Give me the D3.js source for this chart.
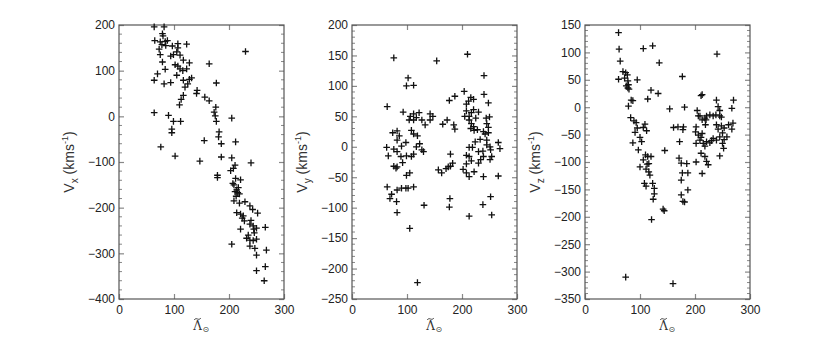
<!DOCTYPE html>
<html>
<head>
<meta charset="utf-8">
<script src="https://cdn.jsdelivr.net/npm/d3@7"></script>
<style>
  body { margin: 0; background: #fff; }
  svg { display: block; }
  .tick text { font-family: "Liberation Sans", Arial, Helvetica, sans-serif; font-size: 12px; fill: #222; }
</style>
</head>
<body>
<div id="chart"></div>
<script>
// define SVG dimensions
var svgWidth = 830;
var svgHeight = 337;

// x axis (solar longitude) is the same for all three panels
var lamDomain = [0, 300];
var lamTicks = [0, 100, 200, 300];

// Vx panel: [lambda, Vx]
var vxPoints = [
  [64,196],[82,196],[79,181],[80,176],[65,166],[75,163],[84,164],[88,166],[78,157],[85,155],
  [97,154],[107,159],[107,150],[123,158],[73,147],[75,135],[94,132],[99,135],[111,134],[105,141],
  [117,123],[128,117],[79,119],[102,113],[107,110],[111,104],[116,100],[84,103],[70,93],[105,90],
  [123,104],[128,81],[132,84],[117,79],[64,79],[82,71],[94,74],[125,71],[120,64],[117,46],
  [113,37],[110,25],[142,57],[141,50],[156,42],[164,34],[164,115],[177,73],[230,142],[176,20],
  [173,9],[175,1],[177,-11],[205,-4],[182,-34],[181,-45],[186,-60],[212,-56],[155,-53],[64,8],
  [90,2],[99,-11],[112,-11],[96,-28],[96,-36],[76,-67],[102,-87],[147,-98],[186,-89],[205,-91],
  [240,-102],[211,-107],[208,-114],[203,-119],[179,-129],[179,-134],[212,-136],[221,-139],[207,-147],[209,-150],
  [214,-161],[216,-167],[219,-170],[209,-185],[219,-190],[229,-187],[238,-196],[243,-204],[214,-211],[221,-214],
  [252,-212],[224,-223],[228,-229],[238,-236],[244,-240],[245,-247],[250,-245],[221,-247],[266,-243],[235,-260],
  [232,-267],[238,-271],[244,-272],[250,-269],[238,-284],[247,-289],[205,-280],[268,-293],[250,-304],[266,-329],
  [250,-338],[264,-360],[213,-175],[217,-156],[211,-165],[226,-218],[246,-255],[240,-228]
];

// Vy panel: [lambda, Vy]
var vyPoints = [
  [76,146],[154,141],[210,152],[102,113],[99,100],[112,101],[64,66],[204,91],[212,75],[208,70],
  [216,81],[221,78],[240,117],[240,86],[248,72],[177,76],[187,83],[93,57],[106,50],[112,54],
  [117,48],[122,56],[127,44],[112,44],[104,44],[133,36],[142,54],[147,50],[142,44],[173,44],
  [165,37],[185,36],[187,29],[205,50],[208,59],[213,50],[217,56],[221,61],[230,57],[213,44],
  [217,38],[225,47],[221,33],[216,30],[222,27],[228,28],[244,47],[245,38],[248,32],[239,25],
  [248,23],[250,49],[74,23],[82,26],[86,18],[82,11],[63,-1],[66,-15],[76,-4],[82,-8],
  [90,1],[98,7],[89,-16],[92,-26],[99,-15],[108,-16],[112,-12],[117,0],[123,5],[119,18],
  [112,21],[108,27],[127,-5],[130,-8],[76,-32],[80,-35],[82,-33],[99,-47],[105,-43],[179,-12],
  [179,-32],[183,-27],[157,-38],[163,-43],[171,-36],[175,-33],[202,-37],[208,-28],[208,-14],[213,-1],
  [213,-16],[217,-23],[208,-43],[213,-49],[222,-41],[230,-27],[234,-21],[239,-16],[238,-7],[245,3],
  [251,0],[252,-5],[254,-16],[251,-21],[219,-1],[224,8],[233,12],[245,11],[242,21],[230,-8],
  [239,-49],[266,-48],[266,7],[269,-3],[64,-66],[72,-78],[69,-85],[81,-90],[82,-71],[82,-108],
  [90,-68],[98,-68],[102,-68],[112,-66],[131,-96],[178,-85],[177,-99],[213,-114],[238,-95],[252,-82],
  [254,-112],[105,-134],[119,-223]
];

// Vz panel: [lambda, Vz]
var vzPoints = [
  [61,136],[62,106],[64,84],[61,51],[69,65],[74,63],[77,59],[72,53],[78,48],[75,39],
  [79,41],[78,35],[80,33],[84,13],[87,12],[79,2],[95,50],[106,107],[123,112],[135,81],
  [120,31],[133,25],[114,15],[83,-19],[89,-25],[93,-28],[95,-38],[91,-46],[100,-55],[106,-37],
  [112,-43],[109,-31],[103,-63],[87,-65],[97,-78],[110,-87],[114,-90],[120,-90],[106,-96],[113,-104],
  [116,-103],[100,-109],[111,-113],[116,-118],[118,-124],[108,-139],[111,-144],[123,-139],[126,-148],[126,-158],
  [124,-168],[121,-205],[142,-186],[144,-189],[145,-79],[154,-3],[161,-37],[169,-36],[179,-36],[178,-41],
  [172,-63],[171,-93],[175,-102],[177,-120],[185,-103],[177,56],[181,0],[175,-133],[175,-160],[178,-172],
  [181,-173],[187,-151],[187,-120],[204,-6],[206,-16],[209,-16],[213,23],[211,21],[213,-23],[218,-20],
  [219,-32],[220,-23],[221,-16],[202,-36],[201,-45],[206,-51],[209,-60],[202,-66],[211,-55],[215,-66],
  [218,-71],[221,-63],[211,-84],[218,-90],[221,-99],[224,-105],[202,-100],[213,-121],[227,-65],[230,-61],
  [233,-57],[239,-60],[239,13],[238,-14],[245,-16],[248,-18],[240,97],[242,1],[245,-6],[239,-32],
  [242,-40],[248,-34],[253,-38],[250,-47],[258,-54],[253,-59],[245,-89],[261,-32],[267,-2],[270,13],
  [267,-40],[269,-29],[250,-66],[252,-75],[74,-310],[160,-322],[227,-14],[233,-16],[245,-54],[213,-48]
];

// panel definitions: y range, tick steps, label subscript
var panels = [
  { data: vxPoints, sub: "x", yDomain: [-400, 200], yMajor: 100, yMinor: 20, left: 119 },
  { data: vyPoints, sub: "y", yDomain: [-250, 200], yMajor: 50,  yMinor: 10, left: 352 },
  { data: vzPoints, sub: "z", yDomain: [-350, 150], yMajor: 50,  yMinor: 10, left: 585 }
];

var panelWidth = 165;
var panelTop = 25;
var panelHeight = 274;

var svg = d3.select("#chart")
  .append("svg")
  .attr("width", svgWidth)
  .attr("height", svgHeight);

panels.forEach(function(p) {
  var g = svg.append("g")
    .attr("transform", `translate(${p.left}, ${panelTop})`);

  var x = d3.scaleLinear().domain(lamDomain).range([0, panelWidth]);
  var y = d3.scaleLinear().domain(p.yDomain).range([panelHeight, 0]);

  var majorY = d3.range(p.yDomain[0], p.yDomain[1] + 1, p.yMajor);
  var minorY = d3.range(p.yDomain[0], p.yDomain[1] + 1, p.yMinor)
    .filter(function(v) { return v % p.yMajor !== 0; });
  var innerX = lamTicks.slice(1, -1);

  // minor ticks, left and right, pointing inward
  g.append("g").attr("class", "minor")
    .selectAll("line").data(minorY).join("line")
    .attr("x1", 0).attr("x2", 3)
    .attr("y1", d => y(d)).attr("y2", d => y(d));
  g.append("g").attr("class", "minor")
    .selectAll("line").data(minorY).join("line")
    .attr("x1", panelWidth - 3).attr("x2", panelWidth)
    .attr("y1", d => y(d)).attr("y2", d => y(d));
  g.selectAll(".minor line").attr("stroke", "#888").attr("stroke-width", 1);

  // major ticks with labels
  var yAxis = g.append("g")
    .call(d3.axisLeft(y).tickValues(majorY).tickSizeInner(-5).tickSizeOuter(0).tickPadding(4).tickFormat(d3.format("d")));
  var yRight = g.append("g")
    .attr("transform", `translate(${panelWidth},0)`)
    .call(d3.axisRight(y).tickValues(majorY).tickSizeInner(-5).tickSizeOuter(0).tickFormat(""));
  var xAxis = g.append("g")
    .attr("transform", `translate(0,${panelHeight})`)
    .call(d3.axisBottom(x).tickValues(lamTicks).tickSizeInner(-5).tickSizeOuter(0).tickPadding(6).tickFormat(d3.format("d")));
  var xTop = g.append("g")
    .call(d3.axisTop(x).tickValues(innerX).tickSizeInner(-5).tickSizeOuter(0).tickFormat(""));

  [yAxis, yRight, xAxis, xTop].forEach(function(a) {
    a.select(".domain").remove();
    a.selectAll(".tick line").attr("stroke", "#888").attr("stroke-width", 1.2);
  });

  // frame
  g.append("rect")
    .attr("x", 0).attr("y", 0)
    .attr("width", panelWidth).attr("height", panelHeight)
    .attr("fill", "none")
    .attr("stroke", "#555")
    .attr("stroke-width", 1.2);

  // plus markers
  var s = 3.3;
  g.append("g")
    .selectAll("path")
    .data(p.data)
    .join("path")
    .attr("d", function(d) {
      var cx = x(d[0]), cy = y(d[1]);
      return `M${cx - s},${cy}H${cx + s}M${cx},${cy - s}V${cy + s}`;
    })
    .attr("stroke", "#111")
    .attr("stroke-width", 1.3)
    .attr("fill", "none");

  // y label
  var yl = g.append("text")
    .attr("transform", `translate(-45, ${panelHeight / 2}) rotate(-90)`)
    .attr("text-anchor", "middle")
    .attr("font-family", "Liberation Sans, Arial, Helvetica, sans-serif")
    .attr("font-size", 14)
    .attr("fill", "#333");
  yl.append("tspan").text("V");
  yl.append("tspan").attr("font-size", 10).attr("dy", 4).text(p.sub);
  yl.append("tspan").attr("dy", -4).text(" (kms");
  yl.append("tspan").attr("font-size", 9).attr("dy", -6).text("-1");
  yl.append("tspan").attr("dy", 6).text(")");

  // x label: lambda with tilde and solar subscript
  var lx = panelWidth / 2 - 4;
  var base = panelHeight + 31;
  g.append("text")
    .attr("x", lx).attr("y", base)
    .attr("text-anchor", "middle")
    .attr("font-family", "DejaVu Serif, Liberation Serif, serif")
    .attr("font-size", 12)
    .attr("fill", "#333")
    .text("\u039B");
  // tilde drawn as a small wave above the lambda
  var tt = base - 11;
  g.append("path")
    .attr("d", d3.line().curve(d3.curveBasis)([
      [lx - 3.5, tt + 1], [lx - 1.5, tt - 1], [lx + 1.5, tt + 1], [lx + 3.5, tt - 1]
    ]))
    .attr("fill", "none")
    .attr("stroke", "#333")
    .attr("stroke-width", 0.9);
  g.append("text")
    .attr("x", lx + 5).attr("y", base + 2)
    .attr("font-family", "DejaVu Sans, sans-serif")
    .attr("font-size", 8)
    .attr("fill", "#333")
    .text("\u2299");
});
</script>
</body>
</html>
